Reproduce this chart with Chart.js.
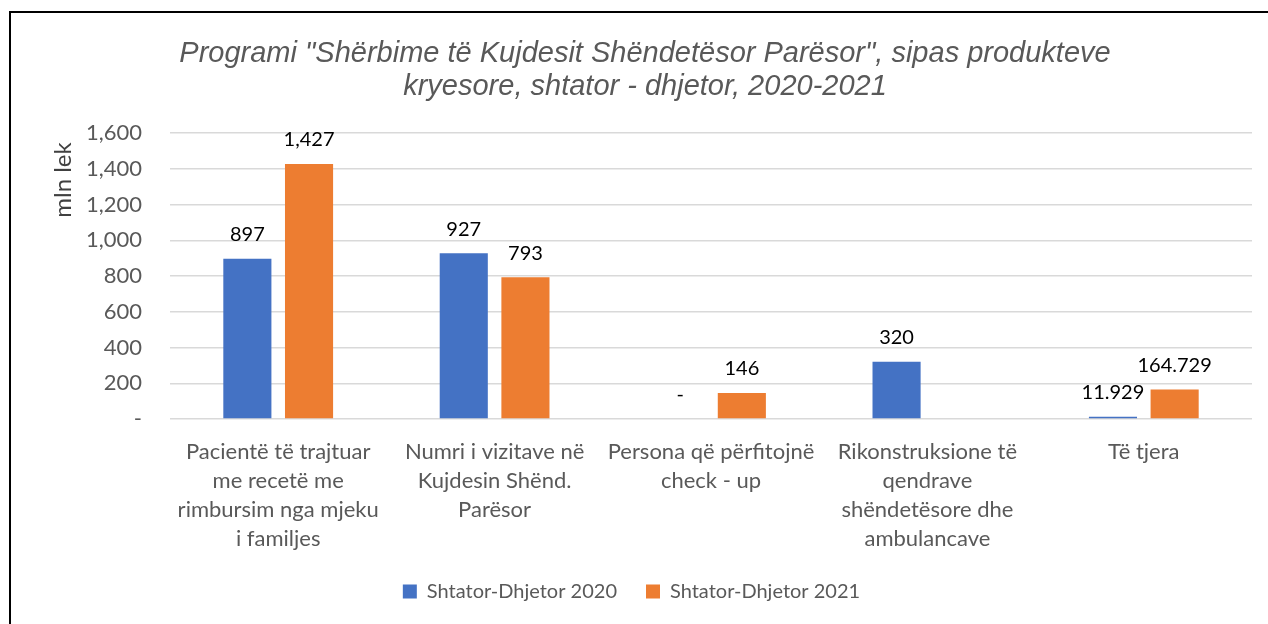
<!DOCTYPE html>
<html><head><meta charset="utf-8">
<script src="https://cdn.jsdelivr.net/npm/chart.js@4/dist/chart.umd.min.js"></script>
<style>
html,body{margin:0;padding:0;background:#fff;overflow:hidden;width:1268px;height:624px;position:relative}
#frame{position:absolute;left:9px;top:11px;width:1300px;height:700px;border-left:2px solid #000;border-top:2px solid #000}
#wrap{position:absolute;left:11px;top:13px;width:1268px;height:611px}
</style></head><body>
<div id="frame"></div>
<div id="wrap"><canvas id="c" width="1268" height="611"></canvas></div>
<script>
const titleLines = ['Programi "Shërbime të Kujdesit Shëndetësor Parësor", sipas produkteve', 'kryesore, shtator - dhjetor, 2020-2021'];
const yAxisTitle = 'mln lek';
const categories = [
  ['Pacientë të trajtuar', 'me recetë me', 'rimbursim nga mjeku', 'i familjes'],
  ['Numri i vizitave në', 'Kujdesin Shënd.', 'Parësor'],
  ['Persona që përfitojnë', 'check - up'],
  ['Rikonstruksione të', 'qendrave', 'shëndetësore dhe', 'ambulancave'],
  ['Të tjera']
];
const seriesNames = ['Shtator-Dhjetor 2020', 'Shtator-Dhjetor 2021'];
const values2020 = [897, 927, 0, 320, 11.929];
const values2021 = [1427, 793, 146, null, 164.729];
const yTickValues = [0, 200, 400, 600, 800, 1000, 1200, 1400, 1600];

const fmt = v => v === 0 ? '-' : (Number.isInteger(v) ? v.toLocaleString('en-US') : v.toFixed(3));

const titlePlugin = {
  id: 'customTitle',
  afterDraw(chart) {
    const ctx = chart.ctx;
    ctx.save();
    ctx.font = 'italic 29px "Liberation Sans", Arial, sans-serif';
    ctx.fillStyle = '#595959';
    ctx.textAlign = 'center';
    ctx.textBaseline = 'middle';
    titleLines.forEach((t, i) => ctx.fillText(t, chart.width / 2, 41 + i * 33));
    ctx.restore();
  }
};
const yTitlePlugin = {
  id: 'yTitle',
  afterDraw(chart) {
    const ctx = chart.ctx, a = chart.chartArea;
    ctx.save();
    ctx.translate(a.left - 107, a.top + 47);
    ctx.rotate(-Math.PI / 2);
    ctx.font = '24px Lato, sans-serif';
    ctx.fillStyle = '#404040';
    ctx.textAlign = 'center';
    ctx.textBaseline = 'middle';
    ctx.fillText(yAxisTitle, 0, 0);
    ctx.restore();
  }
};
const barLabels = {
  id: 'barLabels',
  afterDatasetsDraw(chart) {
    const ctx = chart.ctx;
    ctx.save();
    ctx.font = '20px Lato, sans-serif';
    ctx.fillStyle = '#000';
    ctx.textAlign = 'center';
    ctx.textBaseline = 'middle';
    chart.data.datasets.forEach((ds, i) => {
      chart.getDatasetMeta(i).data.forEach((bar, j) => {
        const v = ds.data[j];
        if (v == null) return;
        ctx.fillText(fmt(v), bar.x, bar.y - 24);
      });
    });
    ctx.restore();
  }
};

new Chart(document.getElementById('c'), {
  type: 'bar',
  data: {
    labels: categories,
    datasets: [
      { label: seriesNames[0], data: values2020, backgroundColor: '#4472C4' },
      { label: seriesNames[1], data: values2021, backgroundColor: '#ED7D31' }
    ]
  },
  options: {
    responsive: false,
    animation: false,
    devicePixelRatio: 1,
    categoryPercentage: 0.57,
    barPercentage: 0.78,
    layout: { padding: { top: 120, right: 27, bottom: 12.5, left: 0 } },
    plugins: {
      legend: {
        position: 'bottom',
        labels: { boxWidth: 14, boxHeight: 14, padding: 29, color: '#595959', font: { family: 'Lato', size: 20 } }
      },
      title: { display: false },
      tooltip: { enabled: false }
    },
    scales: {
      x: {
        grid: { display: false },
        border: { display: false },
        ticks: { color: '#595959', font: { family: 'Lato', size: 22, lineHeight: 1.32 }, padding: 10, maxRotation: 0, autoSkip: false },
        afterFit: s => { s.height = 133.5; }
      },
      y: {
        min: 0, max: 1600,
        afterBuildTicks: s => { s.ticks = yTickValues.map(v => ({ value: v })); },
        grid: { color: '#D9D9D9', lineWidth: 1.5, drawTicks: false },
        border: { display: false },
        ticks: { color: '#595959', font: { family: 'Lato', size: 22 }, padding: 28, callback: v => fmt(v) },
        afterFit: s => { s.width = 159; }
      }
    }
  },
  plugins: [titlePlugin, yTitlePlugin, barLabels]
});
</script>
</body></html>
